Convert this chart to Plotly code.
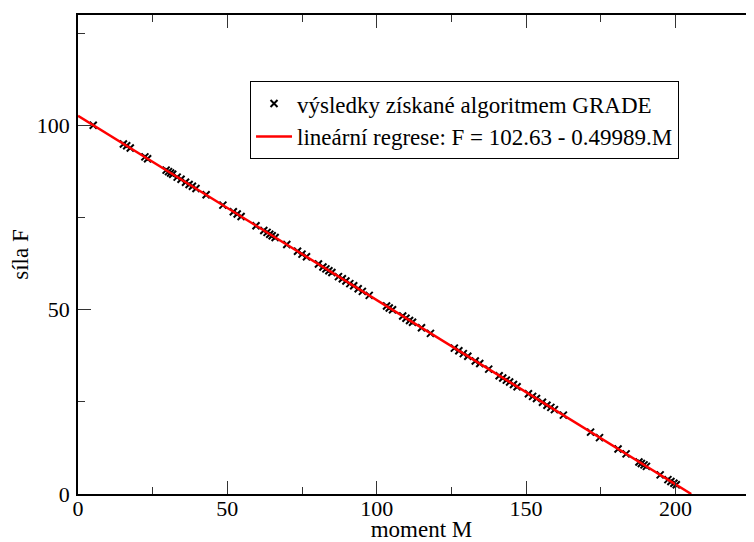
import plotly.graph_objects as go

# Data
moment_M = [5.1, 15.2, 16.3, 17.5, 22.4, 23.3, 29.5, 30.3, 31.0, 31.7, 33.2, 34.5,
            36.0, 37.2, 38.3, 39.5, 42.9, 48.5, 52.0, 53.3, 54.6, 59.6, 62.2, 63.3,
            64.2, 65.0, 66.0, 69.9, 73.5, 75.0, 76.5, 80.5, 82.0, 83.0, 84.0, 85.0,
            87.2, 88.5, 89.7, 91.0, 92.3, 93.8, 95.2, 97.5, 103.3, 104.2, 105.3, 108.7,
            109.8, 111.0, 112.0, 115.0, 118.0, 126.0, 127.5, 129.0, 130.5, 133.0, 134.5,
            137.5, 141.0, 142.2, 143.4, 144.5, 145.8, 147.0, 150.8, 152.2, 153.5, 155.5,
            157.0, 158.3, 159.5, 162.5, 171.6, 174.6, 180.8, 183.5, 187.8, 188.6, 189.5,
            190.3, 194.9, 197.5, 198.5, 199.5, 200.3]
sila_F = [100.1, 95.0, 94.5, 93.9, 91.5, 91.0, 87.9, 87.5, 87.1, 86.8, 86.0, 85.4,
          84.6, 84.0, 83.5, 82.9, 81.2, 78.4, 76.6, 76.0, 75.3, 72.8, 71.5, 71.0,
          70.5, 70.1, 69.6, 67.7, 65.9, 65.1, 64.4, 62.4, 61.6, 61.1, 60.6, 60.1,
          59.0, 58.4, 57.8, 57.1, 56.5, 55.7, 55.0, 53.9, 51.0, 50.5, 50.0, 48.3,
          47.7, 47.1, 46.6, 45.1, 43.6, 39.6, 38.9, 38.1, 37.4, 36.1, 35.4,
          33.9, 32.1, 31.5, 30.9, 30.4, 29.7, 29.1, 27.2, 26.5, 25.9, 24.9,
          24.1, 23.5, 22.9, 21.4, 16.8, 15.3, 12.2, 10.9, 8.7, 8.3, 7.9,
          7.5, 5.2, 3.9, 3.4, 2.9, 2.5]

intercept = 102.63
slope = -0.49989
line_M = [0, -intercept / slope]
line_F = [intercept + slope * m for m in line_M]

x_ticks = [0, 50, 100, 150, 200]
y_ticks = [0, 50, 100]

FONT = "Liberation Serif"

fig = go.Figure()
fig.add_trace(go.Scatter(
    x=moment_M, y=sila_F, mode="markers",
    name="výsledky získané algoritmem GRADE",
    marker=dict(symbol="x-thin-open", size=7, color="black",
                line=dict(color="black", width=2)),
))
fig.add_trace(go.Scatter(
    x=line_M, y=line_F, mode="lines",
    name="lineární regrese: F = 102.63 - 0.49989.M",
    line=dict(color="red", width=2.5),
))

axis_common = dict(
    showgrid=False, zeroline=False, showline=True, linecolor="black", linewidth=1.5,
    mirror="ticks", ticks="inside", ticklen=13, tickwidth=1.2, tickcolor="#333",
    tickfont=dict(family=FONT, size=22, color="black"), automargin=False,
    minor=dict(ticks="inside", ticklen=7, tickwidth=1.2, tickcolor="#333", dtick=25),
)

fig.update_layout(
    width=762, height=534,
    margin=dict(l=70, r=5, t=7, b=48),
    plot_bgcolor="white", paper_bgcolor="white",
    font=dict(family=FONT, size=22, color="black"),
    xaxis=dict(range=[0, 230], tickvals=x_ticks,
               title=dict(text="moment M", standoff=0, font=dict(family=FONT, size=23)),
               ticklabelstandoff=-6,
               **axis_common),
    yaxis=dict(range=[0, 130], tickvals=y_ticks,
               title=dict(text="síla F", standoff=2, font=dict(family=FONT, size=23)),
               ticklabelstandoff=2,
               **axis_common),
    legend=dict(x=0.2504, y=0.862, xanchor="left", yanchor="top",
                bgcolor="white", bordercolor="black", borderwidth=1,
                font=dict(family=FONT, size=23), itemwidth=36,
                tracegroupgap=0),
    showlegend=True,
)

fig.write_html("out.html")
